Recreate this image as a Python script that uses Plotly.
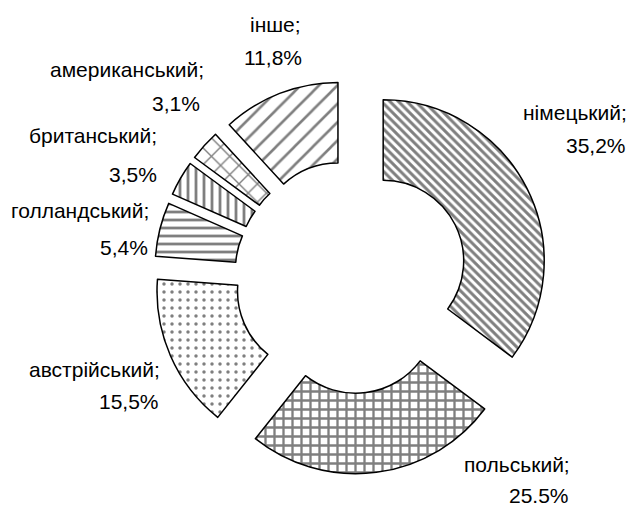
import plotly.graph_objects as go

labels = ["німецький", "польський", "австрійський", "голландський", "британський", "американський", "інше"]
values = [35.2, 25.5, 15.5, 5.4, 3.5, 3.1, 11.8]
value_texts = ["35,2%", "25.5%", "15,5%", "5,4%", "3,5%", "3,1%", "11,8%"]
shapes = ["\\", "+", ".", "-", "|", "x", "/"]
sizes = [6, 9, 8, 8, 8, 13, 13]
solid = [0.5, 0.45, 0.15, 0.35, 0.35, 0.2, 0.2]

W, H = 630, 508
fig = go.Figure(go.Pie(
    labels=labels, values=values, sort=False, direction="clockwise", rotation=0,
    hole=0.5, pull=[0.2236] * len(values), textinfo="none", showlegend=False,
    marker=dict(colors=["white"] * len(values),
                line=dict(color="black", width=1.5),
                pattern=dict(shape=shapes, size=sizes, solidity=solid,
                             fgcolor="black", bgcolor="white", fillmode="overlay")),
    domain=dict(x=[154 / W, 548 / W], y=[34 / H, 428 / H]),
))

# label line positions (pixel centres)
name_pos = [(575, 112), (517, 464), (94, 369), (80, 211), (93, 136), (127, 70), (275, 24)]
val_pos = [(596, 146), (539, 495), (129, 401), (124, 247), (133, 174), (176, 104), (273, 57)]
font = dict(family="Liberation Sans Narrow, Liberation Sans", size=21, color="black")
for lab, vt, (nx, ny), (vx, vy) in zip(labels, value_texts, name_pos, val_pos):
    fig.add_annotation(x=nx / W, y=1 - ny / H, xref="paper", yref="paper", text=lab + ";",
                       showarrow=False, font=font, xanchor="center", yanchor="middle")
    fig.add_annotation(x=vx / W, y=1 - vy / H, xref="paper", yref="paper", text=vt,
                       showarrow=False, font=font, xanchor="center", yanchor="middle")

fig.update_layout(width=W, height=H, margin=dict(l=0, r=0, t=0, b=0),
                  paper_bgcolor="white", plot_bgcolor="white")
fig.write_html("out.html")
